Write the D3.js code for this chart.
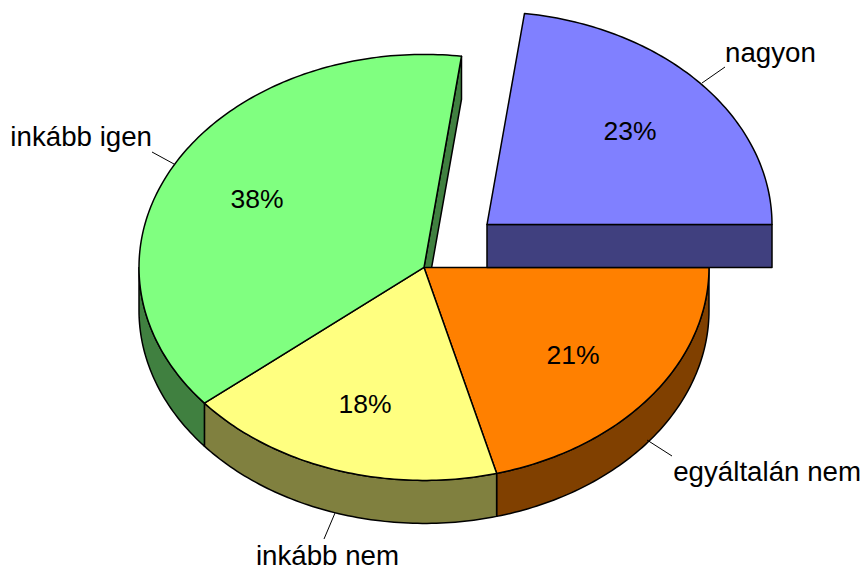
<!DOCTYPE html>
<html><head><meta charset="utf-8">
<script src="https://cdnjs.cloudflare.com/ajax/libs/d3/7.8.5/d3.min.js"></script>
<style>html,body{margin:0;padding:0;background:#fff}svg{display:block}text{font-family:"Liberation Sans",Arial,sans-serif;fill:#000}</style>
</head><body><svg id="c" width="867" height="569"></svg>
<script>
const categories = ["nagyon","egyáltalán nem","inkább nem","inkább igen"];
const values = [22.9,20.9,18.1,38.1];
const topColors = ["#8080ff","#ff8000","#ffff80","#80ff80"];
const sideColors = ["#40407f","#804000","#80803f","#408040"];
const exploded = [true,false,false,false];
const percentPos = [[630,131],[573,355],[365,403.5],[257,198.5]];
const labelPos = [[725,53,"start"],[861,472,"end"],[327.5,556,"middle"],[152,137,"end"]];
const leaders = [[[702,83],[725,67]],[[647,440],[672,456]],[[335,513],[324,539]],[[174,164],[152,152]]];

const svg = d3.select("#c");
const rx = 285, ry = 213, depth = 43;
const mainC = [424,267.4], explC = [487,224.6];
const X = d3.scaleLinear().domain([-1,1]).range([-rx,rx]);
const Y = d3.scaleLinear().domain([-1,1]).range([-ry,ry]);
const start = Math.PI/2 - values[0]/100*2*Math.PI;
const pie = d3.pie().sort(null).value(d=>d).startAngle(start).endAngle(start+2*Math.PI);
const arcs = pie(values);
const pt = (a,c,dy=0)=>[c[0]+X(Math.sin(a)),c[1]+Y(-Math.cos(a))+dy];
const line = d3.line();
function curve(a0,a1,c,dy){const n=Math.max(2,Math.ceil(Math.abs(a1-a0)*60));
  return d3.range(n+1).map(i=>pt(a0+(a1-a0)*i/n,c,dy));}
const center = i=>exploded[i]?explC:mainC;
const g = svg.append("g").attr("stroke","#000").attr("stroke-width",1.5).attr("stroke-linejoin","round");

// inner cut wall of the slice that ends at the top
arcs.forEach((d,i)=>{
  if(exploded[i]) return;
  const c=center(i), e=pt(d.endAngle,c);
  if(Math.sin(d.endAngle)>0){
    g.append("path").attr("fill",sideColors[i])
     .attr("d",line([c,e,[e[0],e[1]+depth],[c[0],c[1]+depth]])+"Z");
  }
});
// outer rim walls (lower half of the ellipse only)
arcs.forEach((d,i)=>{
  const c=center(i);
  const a0=Math.max(d.startAngle,Math.PI/2), a1=Math.min(d.endAngle,3*Math.PI/2);
  if(a1<=a0) return;
  if(exploded[i]) return;
  const top=curve(a0,a1,c,0), bot=curve(a1,a0,c,depth);
  g.append("path").attr("fill",sideColors[i]).attr("d",line(top.concat(bot))+"Z");
});
// tops of the main pie
function topPath(d,c){return line([c].concat(curve(d.startAngle,d.endAngle,c,0)))+"Z";}
arcs.forEach((d,i)=>{ if(!exploded[i]) g.append("path").attr("fill",topColors[i]).attr("d",topPath(d,center(i))); });
// exploded slice: front face then top
arcs.forEach((d,i)=>{
  if(!exploded[i]) return;
  const c=center(i), e=pt(d.endAngle,c);
  g.append("path").attr("fill",sideColors[i]).attr("d",line([c,e,[e[0],e[1]+depth],[c[0],c[1]+depth]])+"Z");
  g.append("path").attr("fill",topColors[i]).attr("d",topPath(d,c));
});
// leaders
svg.append("g").attr("stroke","#000").attr("stroke-width",1).selectAll("path").data(leaders).join("path").attr("d",d=>line(d));
// labels
svg.append("g").selectAll("text").data(values).join("text").attr("font-size",26.5)
  .attr("x",(d,i)=>percentPos[i][0]).attr("y",(d,i)=>percentPos[i][1]).attr("text-anchor","middle").attr("dominant-baseline","central").text(d=>Math.round(d)+"%");
svg.append("g").selectAll("text").data(categories).join("text").attr("font-size",27.7)
  .attr("x",(d,i)=>labelPos[i][0]).attr("y",(d,i)=>labelPos[i][1]+9).attr("text-anchor",(d,i)=>labelPos[i][2]).text(d=>d);
</script></body></html>
